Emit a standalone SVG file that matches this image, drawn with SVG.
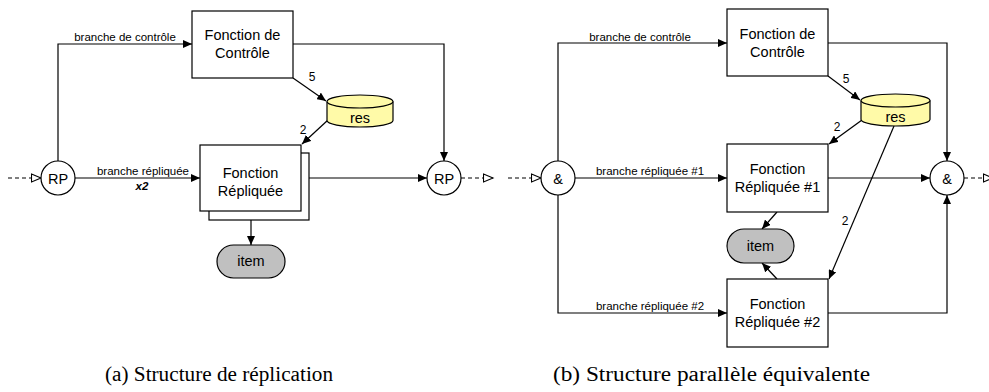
<svg xmlns="http://www.w3.org/2000/svg" width="989" height="392" viewBox="0 0 989 392">
<style>
.box{fill:#fff;stroke:#000;stroke-width:1.2}
.t{font-family:"Liberation Sans",Arial,sans-serif;font-size:14.5px;fill:#000;text-anchor:middle}
.lbl{font-family:"Liberation Sans",Arial,sans-serif;font-size:11.5px;fill:#000;text-anchor:middle}
.num{font-family:"Liberation Sans",Arial,sans-serif;font-size:12px;fill:#000;text-anchor:middle}
.cap{font-family:"Liberation Serif","Times New Roman",serif;font-size:20px;fill:#000}
.ln{fill:none;stroke:#000;stroke-width:1.2}
.arr{marker-end:url(#fa)}
.dash{fill:none;stroke:#000;stroke-width:1.2;stroke-dasharray:4,3}
.cyl{fill:#fffaa8;stroke:#000;stroke-width:1.2}
.item{fill:#c0c0c0;stroke:#000;stroke-width:1.2}
.circ{fill:#fff;stroke:#000;stroke-width:1.2}
</style>
<defs>
<marker id="fa" markerWidth="10" markerHeight="8" refX="9" refY="4" orient="auto" markerUnits="userSpaceOnUse">
<path d="M0,0 L9,4 L0,8 z" fill="#000"/>
</marker>
<marker id="oa" markerWidth="12" markerHeight="10" refX="10.5" refY="5" orient="auto" markerUnits="userSpaceOnUse">
<path d="M1,1 L10.5,5 L1,9 z" fill="#fff" stroke="#000" stroke-width="1.1"/>
</marker>
</defs>
<rect width="989" height="392" fill="#fff"/>

<g id="connectors">
<path class="dash" d="M8,178 L41,178" marker-end="url(#oa)"/>
<path class="ln arr" d="M58,161 L58,44 L192,44"/>
<path class="ln arr" d="M75,178 L200,178"/>
<path class="ln arr" d="M293,44 L444,44 L444,161"/>
<path class="ln arr" d="M309,178 L427,178"/>
<path class="dash" d="M461,178 L493,178" marker-end="url(#oa)"/>
<path class="ln arr" d="M293,78 L326,101"/>
<path class="ln arr" d="M328,120 L302,144"/>
<path class="ln arr" d="M251,211 L251,245"/>
<path class="dash" d="M508,178 L541,178" marker-end="url(#oa)"/>
<path class="ln arr" d="M558,161 L558,43 L727,43"/>
<path class="ln arr" d="M575,178 L727,178"/>
<path class="ln arr" d="M558,195 L558,313 L727,313"/>
<path class="ln arr" d="M828,43 L947,43 L947,161"/>
<path class="ln arr" d="M828,178 L930,178"/>
<path class="ln arr" d="M828,313 L947,313 L947,195"/>
<path class="dash" d="M964,178 L993,178" marker-end="url(#oa)"/>
<path class="ln arr" d="M828,76 L860,100"/>
<path class="ln arr" d="M862,120 L829,144"/>
<path class="ln arr" d="M894,126 L829,279"/>
<path class="ln arr" d="M777,212 L762,229"/>
<path class="ln arr" d="M777,279 L762,263"/>
<text class="lbl" x="125" y="41">branche de contrôle</text>
<text class="lbl" x="143" y="175">branche répliquée</text>
<text class="lbl" x="142" y="190" style="font-weight:bold;font-style:italic">x2</text>
<text class="num" x="312" y="81">5</text>
<text class="num" x="303" y="134">2</text>
<text class="lbl" x="640" y="40.5">branche de contrôle</text>
<text class="lbl" x="650" y="175">branche répliquée #1</text>
<text class="lbl" x="650" y="310">branche répliquée #2</text>
<text class="num" x="846" y="83">5</text>
<text class="num" x="837" y="131">2</text>
<text class="num" x="845" y="225">2</text>
</g>

<g id="rp-in">
<circle class="circ" cx="58" cy="178" r="17"/>
<text class="t" x="58" y="183.5">RP</text>
</g>
<g id="ctrl-a">
<rect class="box" x="192" y="11" width="101" height="67"/>
<text class="t" x="242.5" y="40">Fonction de</text>
<text class="t" x="242.5" y="58">Contrôle</text>
</g>
<g id="res-a">
<path class="cyl" d="M327,101.5 L327,120.5 A33,6.5 0 0 0 393,120.5 L393,101.5"/>
<ellipse class="cyl" cx="360" cy="101.5" rx="33" ry="6.5"/>
<text class="t" x="360" y="123">res</text>
</g>
<g id="repl-a">
<rect class="box" x="209" y="153" width="100" height="67"/>
<rect class="box" x="200" y="145" width="101" height="66"/>
<text class="t" x="250.5" y="178">Fonction</text>
<text class="t" x="250.5" y="196">Répliquée</text>
</g>
<g id="item-a">
<rect class="item" x="217" y="245" width="68" height="33" rx="16.5"/>
<text class="t" x="251" y="266">item</text>
</g>
<g id="rp-out">
<circle class="circ" cx="444" cy="178" r="17"/>
<text class="t" x="444" y="183.5">RP</text>
</g>

<g id="and-in">
<circle class="circ" cx="558" cy="178" r="17"/>
<text class="t" x="558" y="183.5">&amp;</text>
</g>
<g id="ctrl-b">
<rect class="box" x="727" y="9" width="101" height="67"/>
<text class="t" x="777.5" y="38.5">Fonction de</text>
<text class="t" x="777.5" y="56.5">Contrôle</text>
</g>
<g id="res-b">
<path class="cyl" d="M861,100.5 L861,119.5 A34.5,6.5 0 0 0 930,119.5 L930,100.5"/>
<ellipse class="cyl" cx="895.5" cy="100.5" rx="34.5" ry="6.5"/>
<text class="t" x="895.5" y="122">res</text>
</g>
<g id="repl-b1">
<rect class="box" x="727" y="144" width="101" height="68"/>
<text class="t" x="777.5" y="174">Fonction</text>
<text class="t" x="777.5" y="192">Répliquée #1</text>
</g>
<g id="item-b">
<rect class="item" x="727" y="229" width="67" height="34" rx="17"/>
<text class="t" x="760.5" y="250.5">item</text>
</g>
<g id="repl-b2">
<rect class="box" x="727" y="279" width="101" height="68"/>
<text class="t" x="777.5" y="309">Fonction</text>
<text class="t" x="777.5" y="327">Répliquée #2</text>
</g>
<g id="and-out">
<circle class="circ" cx="947" cy="178" r="17"/>
<text class="t" x="947" y="183.5">&amp;</text>
</g>

<g id="captions">
<text class="cap" x="105" y="381" textLength="228" lengthAdjust="spacingAndGlyphs">(a) Structure de réplication</text>
<text class="cap" x="553" y="381" textLength="317" lengthAdjust="spacingAndGlyphs">(b) Structure parallèle équivalente</text>
</g>
</svg>
